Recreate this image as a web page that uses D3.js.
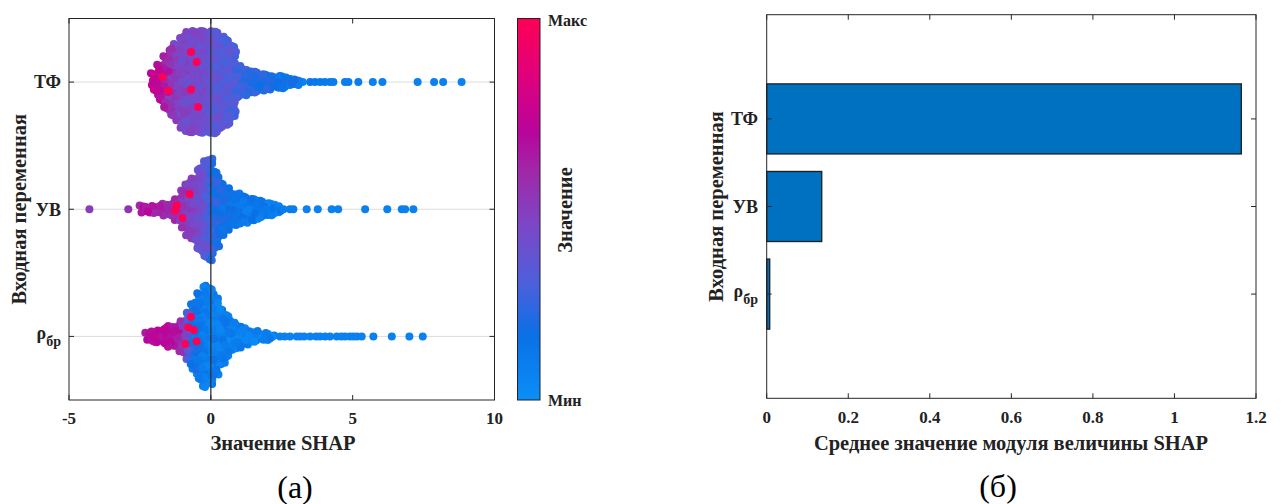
<!DOCTYPE html>
<html><head><meta charset="utf-8">
<script src="https://cdn.jsdelivr.net/npm/d3@7"></script>
<style>body{margin:0;background:#fff} svg{display:block}</style>
</head><body>
<svg id="c" width="1281" height="504"></svg>
<script>
// ---------------- DATA ----------------
const categories = ["ТФ", "УВ", "ρ"];
const categorySub = ["", "", "бр"];
const xTicksLeft = [-5, 0, 5, 10];
const xTicksRight = [0, 0.2, 0.4, 0.6, 0.8, 1, 1.2];

// binned SHAP distributions: bin centre, number of points, mean feature value (0 = Мин, 1 = Макс)
const tfBinX = [-2.0,-1.8,-1.6,-1.4,-1.2,-1.0,-0.8,-0.6,-0.4,-0.2,0.0,0.2,0.4,0.6,0.8,1.0,1.2,1.4,1.6,1.8,2.0,2.2,2.4,2.6,2.8,3.0,3.2];
const tfBinN = [8,16,22,28,32,38,42,42,42,42,42,42,38,36,30,14,12,10,10,8,8,6,6,6,4,4,2];
const tfBinC = [0.76,0.7,0.62,0.54,0.48,0.45,0.44,0.43,0.42,0.41,0.38,0.36,0.34,0.32,0.3,0.27,0.25,0.24,0.23,0.21,0.2,0.18,0.17,0.16,0.15,0.14,0.13];
const tfTailX = [3.5,3.67,3.85,4.02,4.2,4.32,4.73,4.85,5.2,5.71,6.05,7.29,7.87,8.19,8.84];
const tfTailC = [0.13,0.13,0.12,0.12,0.12,0.1,0.1,0.1,0.1,0.08,0.08,0.08,0.08,0.08,0.08];
const tfMaxX = [-0.7,-0.5,-0.7,-0.45,-1.7,-1.5];

const uvBinX = [-2.4,-2.2,-2.0,-1.8,-1.6,-1.4,-1.2,-1.0,-0.8,-0.6,-0.4,-0.2,0.0,0.2,0.4,0.6,0.8,1.0,1.2,1.4,1.6,1.8,2.0,2.2,2.4];
const uvBinN = [4,4,4,4,6,6,10,16,22,26,34,40,42,32,22,18,14,14,12,10,10,8,6,6,4];
const uvBinC = [0.66,0.66,0.64,0.62,0.6,0.58,0.56,0.52,0.48,0.45,0.42,0.36,0.25,0.2,0.18,0.17,0.16,0.15,0.14,0.13,0.12,0.12,0.11,0.11,0.1];
const uvTailX = [-4.28,-2.91,2.56,2.79,2.91,3.38,3.77,4.26,4.49,5.44,6.22,6.73,6.85,7.14];
const uvTailC = [0.5,0.55,0.1,0.1,0.1,0.08,0.08,0.08,0.08,0.08,0.08,0.08,0.08,0.08];
const uvMaxX = [-0.75,-1.2,-1.25,-1.0];

const rhoBinX = [-2.2,-2.0,-1.8,-1.6,-1.4,-1.2,-1.0,-0.8,-0.6,-0.4,-0.2,0.0,0.2,0.4,0.6,0.8,1.0,1.2,1.4,1.6,1.8,2.0,2.2];
const rhoBinN = [4,6,6,8,10,10,14,20,28,36,42,40,32,24,18,12,10,8,6,6,4,4,2];
const rhoBinC = [0.7,0.7,0.7,0.7,0.68,0.64,0.52,0.3,0.15,0.12,0.1,0.1,0.1,0.09,0.09,0.09,0.09,0.08,0.08,0.08,0.08,0.08,0.08];
const rhoTailX = [2.44,2.6,2.79,3.03,3.15,3.29,3.5,3.71,3.85,4.03,4.2,4.44,4.6,4.73,4.9,5.02,5.15,5.32,5.73,6.38,7.0,7.47];
const rhoTailC = [0.08,0.08,0.08,0.08,0.08,0.08,0.08,0.08,0.08,0.08,0.08,0.08,0.08,0.08,0.08,0.08,0.08,0.08,0.08,0.08,0.08,0.08];
const rhoMaxX = [-0.7,-0.8,-0.5,-0.9,-0.6];

const meanAbsShap = [1.164, 0.135, 0.0074];

// colormap of the colorbar (Мин -> Макс)
const cmapStops = [0, 0.17, 0.3, 0.45, 0.6, 0.7, 0.85, 1];
const cmapColors = ["#0b8ff7","#0a70e6","#4a60dc","#7a48c8","#a028a8","#b8059c","#e0007c","#ff0055"];

// ---------------- DRAWING ----------------
const svg = d3.select("#c");
const FONT = "'Liberation Serif','Times New Roman',serif";
const AX = "#262626";
const TXT = "#222";
const color = d3.scaleLinear().domain(cmapStops).range(cmapColors).clamp(true);
const frac = v => v - Math.floor(v);

function btext(g, size) {
  return g.append("text").attr("font-family", FONT).attr("font-size", size)
    .attr("font-weight", "bold").attr("fill", TXT);
}

// ---- left panel: swarm chart ----
const xL = d3.scaleLinear().domain([-5, 10]).range([69, 494.5]);
const yL = d3.scaleLinear().domain([0.5, 3.5]).range([18.5, 400]);
const gL = svg.append("g");

gL.selectAll("line.grid").data(categories).join("line")
  .attr("x1", xL(-5)).attr("x2", xL(10))
  .attr("y1", (d,i)=>yL(i+1)).attr("y2", (d,i)=>yL(i+1))
  .attr("stroke", "#dcdcdc").attr("stroke-width", 1);

function swarm(binX, binN, binC, tailX, tailC, maxX, cat) {
  const cy = yL(cat), s = 5, pts = [];
  binX.forEach((bx, i) => {
    const n = binN[i], rows = Math.ceil(n / 2);
    for (let k = 0; k < n; k++) {
      const r = Math.floor(k / 2), c = k % 2;
      const g1 = frac(k*0.618034 + i*0.2718), g2 = frac(k*0.41421 + i*0.5772), g3 = frac(k*0.7548777 + i*0.3183);
      const xv = bx + (c ? 1 : -1)*0.05 + (r % 2 ? 0.025 : -0.025) + (g1 - 0.5)*0.07;
      const yo = (r - (rows - 1)/2)*s + (g2 - 0.5)*2.5;
      pts.push({px: xL(xv), py: cy + yo, c: binC[i] + (g3 - 0.5)*0.12, key: frac((i*53 + k)*0.618034)});
    }
  });
  tailX.forEach((v, j) => pts.push({px: xL(v), py: cy, c: tailC[j], key: 2 + j}));
  const pattern = [-0.6, -0.4, 0.15, 0.5, -0.2, 0.35];
  maxX.forEach((v, j) => {
    let bi = 0; binX.forEach((b, i) => { if (Math.abs(b - v) < Math.abs(binX[bi] - v)) bi = i; });
    const h = (Math.ceil(binN[bi]/2) - 1)/2*s;
    pts.push({px: xL(v), py: cy + pattern[j % pattern.length]*h, c: 1, key: 3 + j});
  });
  pts.sort((a, b) => a.key - b.key);
  return pts;
}

const allPts = [
  ...swarm(tfBinX, tfBinN, tfBinC, tfTailX, tfTailC, tfMaxX, 1),
  ...swarm(uvBinX, uvBinN, uvBinC, uvTailX, uvTailC, uvMaxX, 2),
  ...swarm(rhoBinX, rhoBinN, rhoBinC, rhoTailX, rhoTailC, rhoMaxX, 3)
];
gL.selectAll("circle.pt").data(allPts).join("circle")
  .attr("cx", d=>d.px).attr("cy", d=>d.py).attr("r", 4)
  .attr("fill", d=>color(Math.max(0, Math.min(1, d.c))));

gL.append("line").attr("x1", xL(0)).attr("x2", xL(0)).attr("y1", yL(0.5)).attr("y2", yL(3.5))
  .attr("stroke", "#333").attr("stroke-width", 1.3);

gL.append("rect").attr("x", xL(-5)).attr("y", yL(0.5)).attr("width", xL(10)-xL(-5)).attr("height", yL(3.5)-yL(0.5))
  .attr("fill", "none").attr("stroke", AX).attr("stroke-width", 1);
xTicksLeft.forEach(t => {
  gL.append("line").attr("x1", xL(t)).attr("x2", xL(t)).attr("y1", yL(3.5)).attr("y2", yL(3.5)-5).attr("stroke", AX);
  gL.append("line").attr("x1", xL(t)).attr("x2", xL(t)).attr("y1", yL(0.5)).attr("y2", yL(0.5)+5).attr("stroke", AX);
  btext(gL, 17).attr("x", xL(t)).attr("y", 418).attr("dy", "0.35em").attr("text-anchor", "middle").text(t);
});
categories.forEach((c, i) => {
  gL.append("line").attr("x1", xL(-5)).attr("x2", xL(-5)+5).attr("y1", yL(i+1)).attr("y2", yL(i+1)).attr("stroke", AX);
  gL.append("line").attr("x1", xL(10)).attr("x2", xL(10)-5).attr("y1", yL(i+1)).attr("y2", yL(i+1)).attr("stroke", AX);
});

function catLabel(g, xr, yc, i) {
  const t = btext(g, 18).attr("x", xr).attr("y", yc).attr("text-anchor", "end");
  if (categorySub[i]) {
    t.attr("dy", "0.15em");
    t.append("tspan").text(categories[i]);
    t.append("tspan").attr("font-size", 14).attr("dy", 7).text(categorySub[i]);
  } else {
    t.attr("dy", "0.35em").text(categories[i]);
  }
}
categories.forEach((c, i) => catLabel(gL, 61, yL(i+1), i));

btext(gL, 20.5).attr("transform", `translate(19,${yL(2)}) rotate(-90)`).attr("text-anchor", "middle").attr("dy", "0.35em")
  .text("Входная переменная");
btext(gL, 20.5).attr("x", 283).attr("y", 443).attr("dy", "0.35em").attr("text-anchor", "middle").text("Значение SHAP");
gL.append("text").attr("x", 295).attr("y", 487).attr("dy", "0.35em").attr("text-anchor", "middle")
  .attr("font-family", FONT).attr("font-size", 32).attr("fill", "#000").text("(а)");

// colorbar
const defs = svg.append("defs");
const grad = defs.append("linearGradient").attr("id", "cb").attr("x1", 0).attr("y1", 1).attr("x2", 0).attr("y2", 0);
cmapStops.forEach((s, i) => grad.append("stop").attr("offset", s).attr("stop-color", cmapColors[i]));
svg.append("rect").attr("x", 517.5).attr("y", 18.5).attr("width", 22.5).attr("height", 381.5)
  .attr("fill", "url(#cb)").attr("stroke", "#222").attr("stroke-width", 1);
btext(svg, 16).attr("x", 548).attr("y", 20).attr("dy", "0.35em").text("Макс");
btext(svg, 16).attr("x", 548).attr("y", 400).attr("dy", "0.35em").text("Мин");
btext(svg, 20.5).attr("transform", `translate(565,210) rotate(-90)`).attr("text-anchor", "middle").attr("dy", "0.35em")
  .text("Значение");

// ---- right panel: bar chart ----
const xR = d3.scaleLinear().domain([0, 1.2]).range([766.7, 1256]);
const yR = d3.scaleLinear().domain([1 - 1.19, 3 + 1.19]).range([14.7, 398.3]);
const gR = svg.append("g");
const bw = yR(1.8) - yR(1.0);
gR.selectAll("rect.bar").data(meanAbsShap).join("rect")
  .attr("x", xR(0)).attr("y", (d,i)=>yR(i+1) - bw/2).attr("width", d=>xR(d)-xR(0)).attr("height", bw)
  .attr("fill", "#0070c0").attr("stroke", "#1e1e1e").attr("stroke-width", 1.3);
gR.append("rect").attr("x", xR(0)).attr("y", yR(1-1.19)).attr("width", xR(1.2)-xR(0)).attr("height", yR(3+1.19)-yR(1-1.19))
  .attr("fill", "none").attr("stroke", AX).attr("stroke-width", 1);
xTicksRight.forEach(t => {
  gR.append("line").attr("x1", xR(t)).attr("x2", xR(t)).attr("y1", yR(4.19)).attr("y2", yR(4.19)-5).attr("stroke", AX);
  gR.append("line").attr("x1", xR(t)).attr("x2", xR(t)).attr("y1", yR(-0.19)).attr("y2", yR(-0.19)+5).attr("stroke", AX);
  btext(gR, 17).attr("x", xR(t)).attr("y", 417).attr("dy", "0.35em").attr("text-anchor", "middle").text(t);
});
categories.forEach((c, i) => {
  gR.append("line").attr("x1", xR(0)).attr("x2", xR(0)+5).attr("y1", yR(i+1)).attr("y2", yR(i+1)).attr("stroke", AX);
  gR.append("line").attr("x1", xR(1.2)).attr("x2", xR(1.2)-5).attr("y1", yR(i+1)).attr("y2", yR(i+1)).attr("stroke", AX);
  catLabel(gR, 758, yR(i+1), i);
});
btext(gR, 20.5).attr("transform", `translate(716,${yR(2)}) rotate(-90)`).attr("text-anchor", "middle").attr("dy", "0.35em")
  .text("Входная переменная");
btext(gR, 20.5).attr("x", 1011).attr("y", 443).attr("dy", "0.35em").attr("text-anchor", "middle")
  .text("Среднее значение модуля величины SHAP");
gR.append("text").attr("x", 998).attr("y", 486).attr("dy", "0.35em").attr("text-anchor", "middle")
  .attr("font-family", FONT).attr("font-size", 32).attr("fill", "#000").text("(б)");
</script>
</body></html>
